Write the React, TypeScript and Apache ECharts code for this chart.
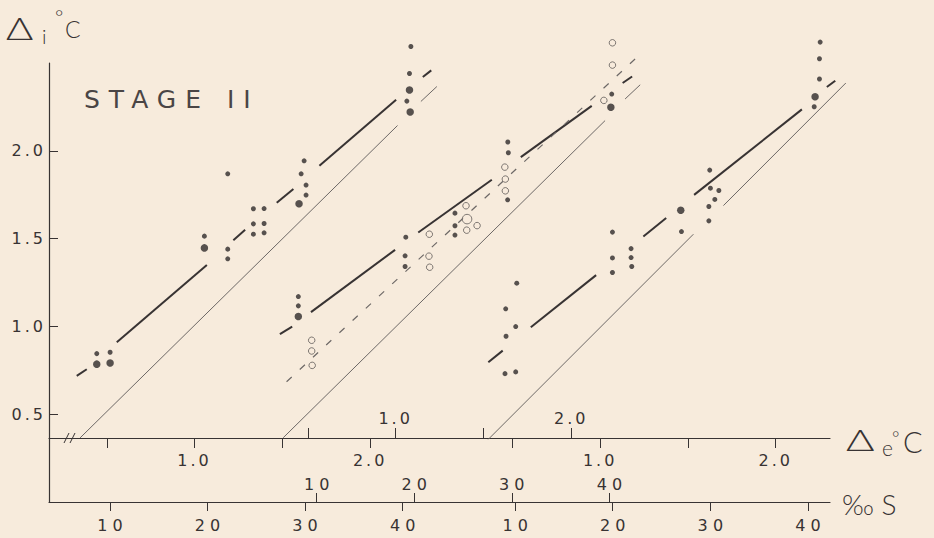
import React, { useEffect, useRef } from "react";
import * as echarts from "echarts";

// ---------- axis ticks / labels ----------
const yTicks = [0.5, 1.0, 1.5, 2.0];
const deTicks = [0.5, 1.0, 1.5, 2.0];
const deLabels = [1.0, 2.0];
const sTicks = [10, 20, 30, 40];

// ---------- group 1 (first Δe / ‰S scale) : [Δe, Δi] ----------
const g1Small = [
  [0.443, 0.845], [0.519, 0.853], [1.056, 1.514], [1.189, 1.44], [1.189, 1.385], [1.189, 1.869],
  [1.335, 1.67], [1.396, 1.671], [1.335, 1.584], [1.396, 1.586], [1.335, 1.525], [1.396, 1.533],
  [1.624, 1.943], [1.607, 1.869], [1.635, 1.805], [1.635, 1.748],
  [2.232, 2.594], [2.224, 2.44], [2.209, 2.283],
];
const g1Large = [[0.443, 0.785], [0.519, 0.792], [1.056, 1.447], [1.595, 1.698], [2.224, 2.346], [2.228, 2.221]];
// fitted line pieces [Δe1, Δi1, Δe2, Δi2]
const g1Fit = [
  [0.329, 0.718, 0.386, 0.756], [0.557, 0.91, 1.07, 1.35], [1.221, 1.491, 1.288, 1.55],
  [1.468, 1.704, 1.563, 1.783], [1.711, 1.915, 2.148, 2.291], [2.3, 2.42, 2.348, 2.458],
];
const g1Iso = [[0.348, 0.365, 2.156, 2.144], [2.289, 2.281, 2.38, 2.366]];

// ---------- group 2 (second scale) ----------
const g2Small = [
  [0.446, 1.17], [0.446, 1.117], [1.058, 1.508], [1.054, 1.402], [1.054, 1.341],
  [1.338, 1.645], [1.338, 1.573], [1.338, 1.52], [1.639, 2.05], [1.642, 1.989], [1.638, 1.721], [2.231, 2.323],
];
const g2Large = [[0.446, 1.056], [2.226, 2.248]];
const g2Open = [
  [0.522, 0.921], [0.522, 0.86], [0.525, 0.778], [1.192, 1.525], [1.19, 1.4], [1.194, 1.337],
  [1.401, 1.687], [1.405, 1.548], [1.464, 1.574], [1.622, 1.907], [1.625, 1.839], [1.625, 1.772],
  [2.235, 2.615], [2.235, 2.488], [2.186, 2.287],
];
const g2OpenLarge = [[1.407, 1.611]];
const g2Fit = [
  [0.341, 0.956, 0.411, 0.999], [0.518, 1.081, 0.997, 1.436], [1.129, 1.535, 1.548, 1.835],
  [1.713, 1.964, 2.117, 2.256], [2.293, 2.386, 2.347, 2.423],
];
const g2FitOpen = [[0.379, 0.685, 2.364, 2.523]];
const g2Iso = [[0.36, 0.366, 2.193, 2.172], [2.307, 2.295, 2.393, 2.376]];

// ---------- group 3 (third scale) ----------
const g3Small = [
  [0.525, 1.246], [0.462, 1.1], [0.519, 0.999], [0.464, 0.944], [0.458, 0.731], [0.519, 0.741],
  [1.07, 1.537], [1.07, 1.39], [1.07, 1.307], [1.176, 1.443], [1.176, 1.392], [1.18, 1.341],
  [1.463, 1.54], [1.624, 1.89], [1.628, 1.787], [1.676, 1.774], [1.653, 1.723], [1.619, 1.683], [1.619, 1.601],
  [2.253, 2.619], [2.249, 2.524], [2.249, 2.409], [2.219, 2.251],
];
const g3Large = [[1.459, 1.661], [2.224, 2.308]];
const g3Fit = [
  [0.363, 0.796, 0.445, 0.862], [0.605, 0.995, 0.977, 1.292], [1.246, 1.512, 1.376, 1.617],
  [1.535, 1.749, 2.149, 2.236], [2.291, 2.363, 2.339, 2.399],
];
const g3Iso = [[0.363, 0.357, 1.531, 1.525], [1.702, 1.688, 2.399, 2.386]];

// ---------- styling ----------
const BG = "#f7ebdc";
const INK = "#383333";
const DOT = "#2e2a2a";
const THIN = "#6d6866";
const FONT = "DejaVu Sans";
const FONT_SPACED = "DejaVu Sans, Verdana";
const FONT_TITLE = "DejaVu Sans, Tahoma";
const FONT_SYM = "Lato";

const css = `
text[style*="Verdana"]{letter-spacing:3px;}
text[style*="Tahoma"]{letter-spacing:9px;}
`;

const seg = (list: number[][]) => list.map((s) => ({ coords: [[s[0], s[1]], [s[2], s[3]]] }));

// Δe scale shifts (group 2 and 3 origins relative to group 1), and visible range
const DE_MIN = 0.171;
const DE_MAX = 4.619;
const SHIFTS = [0, 1.145, 2.31];
const S_MINS = [3.765, -17.42, -37.76];
const S_SPAN = 80.02;

function deAxis(shift: number, inside: boolean, showLine: boolean) {
  return {
    type: "value",
    position: "bottom",
    offset: -64,
    min: DE_MIN - shift,
    max: DE_MAX - shift,
    axisLine: { show: showLine, onZero: false, lineStyle: { color: INK, width: 1.2 } },
    axisTick: { show: true, inside, length: 10, customValues: deTicks, lineStyle: { color: INK, width: 1 } },
    axisLabel: {
      show: true,
      inside,
      margin: inside ? 12 : 14,
      customValues: deLabels,
      formatter: (v: number) => v.toFixed(1),
      color: INK,
      fontSize: 16,
      fontFamily: FONT_SPACED,
    },
    splitLine: { show: false },
  };
}

function sAxis(min: number, inside: boolean, showLine: boolean) {
  return {
    type: "value",
    position: "bottom",
    offset: 0,
    min,
    max: min + S_SPAN,
    axisLine: { show: showLine, onZero: false, lineStyle: { color: INK, width: 1.2 } },
    axisTick: { show: true, inside, length: 9, customValues: sTicks, lineStyle: { color: INK, width: 1 } },
    axisLabel: {
      show: true,
      inside,
      margin: inside ? 10 : 15,
      customValues: sTicks,
      formatter: (v: number) => String(v).split("").join(" "),
      color: INK,
      fontSize: 16,
      fontFamily: FONT,
    },
    splitLine: { show: false },
  };
}

function dots(data: number[][], xi: number, size: number, open = false) {
  return {
    type: "scatter",
    xAxisIndex: xi,
    yAxisIndex: 0,
    data,
    symbol: "circle",
    symbolSize: size,
    clip: false,
    silent: true,
    itemStyle: open
      ? { color: BG, borderColor: "#5f5a58", borderWidth: 1 }
      : { color: DOT, borderWidth: 0 },
    z: 5,
  };
}

function lines(data: number[][], xi: number, style: any) {
  return {
    type: "lines",
    coordinateSystem: "cartesian2d",
    xAxisIndex: xi,
    yAxisIndex: 0,
    data: seg(data),
    clip: false,
    silent: true,
    lineStyle: { opacity: 1, ...style },
    z: 3,
  };
}

const thick = { color: INK, width: 2 };
const thin = { color: THIN, width: 1 };
const dashed = { color: THIN, width: 1.2, type: [7, 11] };

const sym = (text: string, x: number, y: number, size: number, scaleX = 1) => ({
  type: "text",
  x,
  y,
  scaleX,
  style: { text, fontSize: size, fontFamily: FONT_SYM, fontWeight: 300, fill: INK, align: "left", verticalAlign: "middle" },
});

const option: any = {
  animation: false,
  backgroundColor: BG,
  grid: { left: 49, right: 104, top: 63, bottom: 36, containLabel: false, outerBoundsMode: "none" },
  xAxis: [
    deAxis(SHIFTS[0], false, true),
    deAxis(SHIFTS[1], true, false),
    deAxis(SHIFTS[2], false, false),
    sAxis(S_MINS[0], false, true),
    sAxis(S_MINS[1], true, false),
    sAxis(S_MINS[2], false, false),
  ],
  yAxis: [
    {
      type: "value",
      min: 0,
      max: 2.5,
      axisLine: { show: true, onZero: false, lineStyle: { color: INK, width: 1.2 } },
      axisTick: { show: true, inside: true, length: 9, customValues: yTicks, lineStyle: { color: INK } },
      axisLabel: {
        show: true,
        margin: 3,
        customValues: yTicks,
        formatter: (v: number) => v.toFixed(1),
        color: INK,
        fontSize: 16,
        fontFamily: FONT_SPACED,
      },
      splitLine: { show: false },
    },
  ],
  graphic: [
    sym("Δ", 6, 27, 32, 1.3),
    sym("i", 42, 36, 20),
    sym("°", 55, 16, 20),
    sym("C", 65, 29, 23),
    { type: "text", x: 84, y: 99, style: { text: "STAGE II", fontSize: 25, fontFamily: FONT_TITLE, fill: "#4a4545", align: "left", verticalAlign: "middle" } },
    sym("Δ", 846, 440, 29, 1.5),
    sym("e", 882, 447, 21),
    sym("°", 892, 437, 18),
    sym("C", 903, 441, 29),
    sym("‰ S", 842, 504, 28),
    // axis break marks on the Δe axis
    { type: "line", shape: { x1: 64, y1: 443, x2: 69, y2: 433 }, style: { stroke: INK, lineWidth: 1 } },
    { type: "line", shape: { x1: 70, y1: 443, x2: 75, y2: 433 }, style: { stroke: INK, lineWidth: 1 } },
  ],
  series: [
    lines(g1Iso, 0, thin),
    lines(g2Iso, 1, thin),
    lines(g3Iso, 2, thin),
    lines(g1Fit, 0, thick),
    lines(g2Fit, 1, thick),
    lines(g3Fit, 2, thick),
    lines(g2FitOpen, 1, dashed),
    dots(g1Small, 0, 5),
    dots(g1Large, 0, 7.5),
    dots(g2Small, 1, 5),
    dots(g2Large, 1, 7.5),
    dots(g2Open, 1, 6.5, true),
    dots(g2OpenLarge, 1, 9.5, true),
    dots(g3Small, 2, 5),
    dots(g3Large, 2, 7.5),
  ],
};

export default function App() {
  const ref = useRef<HTMLDivElement>(null);
  useEffect(() => {
    const chart = echarts.init(ref.current as HTMLDivElement, null, { renderer: "svg" });
    chart.setOption(option);
    return () => chart.dispose();
  }, []);
  return (
    <div style={{ position: "fixed", left: 0, top: 0, width: 934, height: 538, background: BG }}>
      <style>{css}</style>
      <div ref={ref} style={{ width: 934, height: 538 }} />
    </div>
  );
}
